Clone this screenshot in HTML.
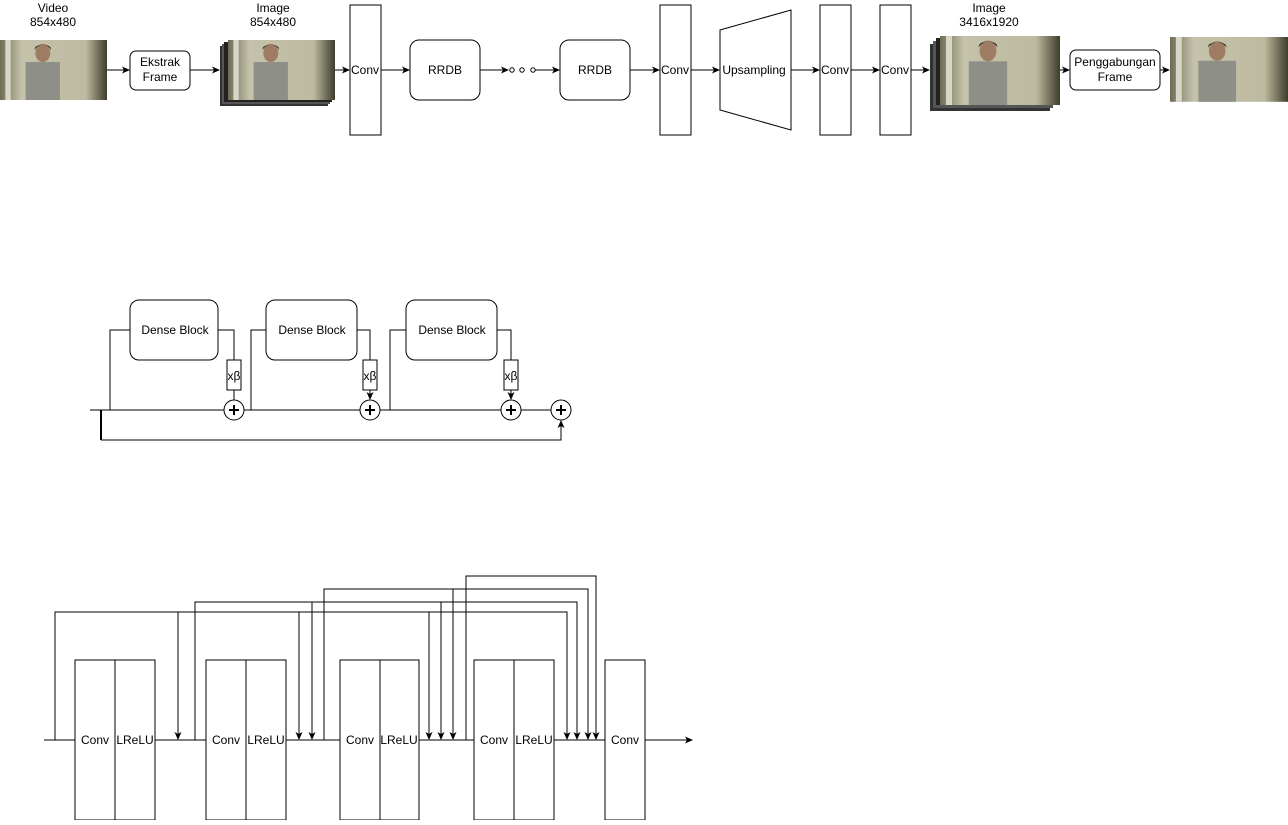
<!DOCTYPE html>
<html><head><style>
body{margin:0;background:#fff;width:1288px;height:820px;overflow:hidden}
svg{font-family:"Liberation Sans",sans-serif;font-size:12px}
</style></head><body>
<svg width="1288" height="820" xmlns="http://www.w3.org/2000/svg">
<defs>
<marker id="a" markerWidth="8" markerHeight="8" refX="7" refY="4" orient="auto" markerUnits="userSpaceOnUse"><path d="M0,0.5 L8,4 L0,7.5 L2,4z" fill="#000"/></marker>
<linearGradient id="bg" x1="0" x2="1"><stop offset="0" stop-color="#6e6c55"/><stop offset="0.2" stop-color="#c4c2aa"/><stop offset="0.8" stop-color="#bdbaa0"/><stop offset="1" stop-color="#3e3c2c"/></linearGradient>
<g id="ph">
<rect x="0" y="0" width="100" height="60" fill="url(#bg)"/>
<rect x="5" y="0" width="5" height="60" fill="#d8d6c6"/>
<rect x="24" y="22" width="32" height="38" fill="#8e9088"/>
<ellipse cx="40" cy="13" rx="7" ry="9" fill="#9e7c62"/>
<path d="M32,10 Q40,-1 48,10 L47,7 Q40,2 33,7z" fill="#2a2520"/>
</g>
</defs>
<g fill="#fff" stroke="#000" stroke-width="1">
<text x="53" y="12" text-anchor="middle" stroke="none" fill="#000">Video</text>
<text x="53" y="26" text-anchor="middle" stroke="none" fill="#000">854x480</text>
<use href="#ph" transform="translate(0,40) scale(1.07,1)" stroke="none"/>
<line x1="107" y1="70" x2="129" y2="70" marker-end="url(#a)"/>
<rect x="130" y="51" width="60" height="39" rx="6"/>
<text x="160" y="66" text-anchor="middle" stroke="none" fill="#000">Ekstrak</text>
<text x="160" y="81" text-anchor="middle" stroke="none" fill="#000">Frame</text>
<line x1="190" y1="70" x2="219" y2="70" marker-end="url(#a)"/>
<text x="273" y="12" text-anchor="middle" stroke="none" fill="#000">Image</text>
<text x="273" y="26" text-anchor="middle" stroke="none" fill="#000">854x480</text>
<g stroke="none">
<rect x="220" y="46" width="108" height="60" fill="#333"/>
<rect x="222" y="44" width="108" height="60" fill="#555"/>
<rect x="224" y="42" width="108" height="60" fill="#222"/>
<use href="#ph" transform="translate(228,40) scale(1.07,1)"/>
</g>
<line x1="335" y1="70" x2="349" y2="70" marker-end="url(#a)"/>
<rect x="350" y="5" width="31" height="130"/>
<text x="365" y="74" text-anchor="middle" stroke="none" fill="#000">Conv</text>
<line x1="381" y1="70" x2="409" y2="70" marker-end="url(#a)"/>
<rect x="410" y="40" width="70" height="60" rx="9"/>
<text x="445" y="74" text-anchor="middle" stroke="none" fill="#000">RRDB</text>
<line x1="480" y1="70" x2="508" y2="70" marker-end="url(#a)"/>
<circle cx="512" cy="70" r="2.2"/><circle cx="522" cy="70" r="2.2"/><circle cx="533" cy="70" r="2.2"/>
<line x1="535" y1="70" x2="559" y2="70" marker-end="url(#a)"/>
<rect x="560" y="40" width="70" height="60" rx="9"/>
<text x="595" y="74" text-anchor="middle" stroke="none" fill="#000">RRDB</text>
<line x1="630" y1="70" x2="659" y2="70" marker-end="url(#a)"/>
<rect x="660" y="5" width="31" height="130"/>
<text x="675" y="74" text-anchor="middle" stroke="none" fill="#000">Conv</text>
<line x1="691" y1="70" x2="719" y2="70" marker-end="url(#a)"/>
<path d="M720,30 L791,10 L791,130 L720,110z"/>
<text x="754" y="74" text-anchor="middle" stroke="none" fill="#000">Upsampling</text>
<line x1="791" y1="70" x2="819" y2="70" marker-end="url(#a)"/>
<rect x="820" y="5" width="31" height="130"/>
<text x="835" y="74" text-anchor="middle" stroke="none" fill="#000">Conv</text>
<line x1="851" y1="70" x2="879" y2="70" marker-end="url(#a)"/>
<rect x="880" y="5" width="31" height="130"/>
<text x="895" y="74" text-anchor="middle" stroke="none" fill="#000">Conv</text>
<line x1="911" y1="70" x2="929" y2="70" marker-end="url(#a)"/>
<text x="989" y="12" text-anchor="middle" stroke="none" fill="#000">Image</text>
<text x="989" y="26" text-anchor="middle" stroke="none" fill="#000">3416x1920</text>
<g stroke="none">
<rect x="930" y="44" width="120" height="67" fill="#333"/>
<rect x="933" y="41" width="120" height="67" fill="#555"/>
<rect x="936" y="38" width="120" height="67" fill="#222"/>
<use href="#ph" transform="translate(940,36) scale(1.2,1.15)"/>
</g>
<line x1="1060" y1="70" x2="1069" y2="70" marker-end="url(#a)"/>
<rect x="1070" y="50" width="90" height="40" rx="6"/>
<text x="1115" y="66" text-anchor="middle" stroke="none" fill="#000">Penggabungan</text>
<text x="1115" y="81" text-anchor="middle" stroke="none" fill="#000">Frame</text>
<line x1="1160" y1="70" x2="1169" y2="70" marker-end="url(#a)"/>
<use href="#ph" transform="translate(1170,37) scale(1.18,1.08)" stroke="none"/>

<line x1="90" y1="410" x2="551" y2="410"/>
<line x1="101" y1="410" x2="101" y2="440" stroke-width="2"/>
<polyline points="101,440 561,440 561,421" fill="none" marker-end="url(#a)"/>
<g fill="none">
<polyline points="110,410 110,330 130,330"/>
<polyline points="218,330 234,330 234,360"/>
<line x1="234" y1="390" x2="234" y2="400"/>
<polyline points="251,410 251,330 266,330"/>
<polyline points="357,330 370,330 370,360"/>
<line x1="370" y1="390" x2="370" y2="399" marker-end="url(#a)"/>
<polyline points="390,410 390,330 406,330"/>
<polyline points="497,330 511,330 511,360"/>
<line x1="511" y1="390" x2="511" y2="399" marker-end="url(#a)"/>
</g>
<rect x="130" y="300" width="88" height="60" rx="9"/>
<text x="175" y="334" text-anchor="middle" stroke="none" fill="#000">Dense Block</text>
<rect x="266" y="300" width="91" height="60" rx="9"/>
<text x="312" y="334" text-anchor="middle" stroke="none" fill="#000">Dense Block</text>
<rect x="406" y="300" width="91" height="60" rx="9"/>
<text x="452" y="334" text-anchor="middle" stroke="none" fill="#000">Dense Block</text>
<rect x="227" y="360" width="14" height="30"/><text x="234" y="380" text-anchor="middle" stroke="none" fill="#000">xβ</text>
<rect x="363" y="360" width="14" height="30"/><text x="370" y="380" text-anchor="middle" stroke="none" fill="#000">xβ</text>
<rect x="504" y="360" width="14" height="30"/><text x="511" y="380" text-anchor="middle" stroke="none" fill="#000">xβ</text>
<g>
<circle cx="234" cy="410" r="10"/><path d="M229,410h10M234,405v10" stroke-width="2"/>
<circle cx="370" cy="410" r="10"/><path d="M365,410h10M370,405v10" stroke-width="2"/>
<circle cx="511" cy="410" r="10"/><path d="M506,410h10M511,405v10" stroke-width="2"/>
<circle cx="561" cy="410" r="10"/><path d="M556,410h10M561,405v10" stroke-width="2"/>
</g>

<line x1="44" y1="740" x2="692" y2="740" marker-end="url(#a)"/>
<g fill="none">
<polyline points="55,740 55,612 567,612 567,739" marker-end="url(#a)"/>
<line x1="178" y1="612" x2="178" y2="739" marker-end="url(#a)"/>
<line x1="299" y1="612" x2="299" y2="739" marker-end="url(#a)"/>
<line x1="429" y1="612" x2="429" y2="739" marker-end="url(#a)"/>
<polyline points="195,740 195,602 577,602 577,739" marker-end="url(#a)"/>
<line x1="312" y1="602" x2="312" y2="739" marker-end="url(#a)"/>
<line x1="441" y1="602" x2="441" y2="739" marker-end="url(#a)"/>
<polyline points="324,740 324,589 588,589 588,739" marker-end="url(#a)"/>
<line x1="453" y1="589" x2="453" y2="739" marker-end="url(#a)"/>
<polyline points="466,740 466,576 596,576 596,739" marker-end="url(#a)"/>
</g>
<rect x="75" y="660" width="40" height="160"/><rect x="115" y="660" width="40" height="160"/>
<rect x="206" y="660" width="40" height="160"/><rect x="246" y="660" width="40" height="160"/>
<rect x="340" y="660" width="40" height="160"/><rect x="380" y="660" width="39" height="160"/>
<rect x="474" y="660" width="40" height="160"/><rect x="514" y="660" width="40" height="160"/>
<rect x="605" y="660" width="40" height="160"/>
<g stroke="none" fill="#000" text-anchor="middle">
<text x="95" y="744">Conv</text><text x="135" y="744">LReLU</text>
<text x="226" y="744">Conv</text><text x="266" y="744">LReLU</text>
<text x="360" y="744">Conv</text><text x="399" y="744">LReLU</text>
<text x="494" y="744">Conv</text><text x="534" y="744">LReLU</text>
<text x="625" y="744">Conv</text>
</g>
</g>
</svg>
</body></html>
